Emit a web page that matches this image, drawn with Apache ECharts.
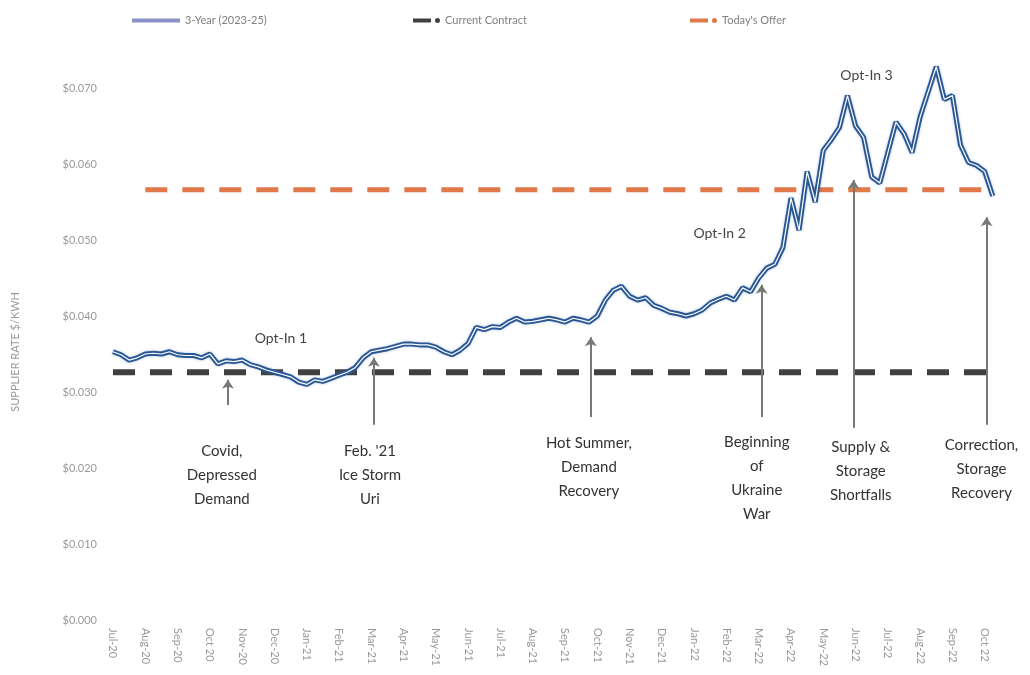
<!DOCTYPE html>
<html>
<head>
<meta charset="utf-8">
<script src="https://cdn.jsdelivr.net/npm/echarts@6/dist/echarts.min.js"></script>
<style>
  html, body { margin: 0; padding: 0; background: #fff; }
  #main { width: 1030px; height: 675px; }
</style>
</head>
<body>
<div id="main"></div>
<script>
// month tick labels (x axis is month index from Jul-20)
var monthLabels = ['Jul-20','Aug-20','Sep-20','Oct 20','Nov-20','Dec-20','Jan-21','Feb-21','Mar-21','Apr-21',
  'May-21','Jun-21','Jul-21','Aug-21','Sep-21','Oct-21','Nov-21','Dec-21','Jan-22','Feb-22','Mar-22',
  'Apr-22','May-22','Jun-22','Jul-22','Aug-22','Sep-22','Oct 22'];

// supplier rate, one reading every quarter month starting Jul-20
var step = 0.25;
var rateValues = [
  0.0353,0.0349,0.0342,0.0345,0.0350,0.0351,0.0350,0.0353,0.0349,0.0348,
  0.0348,0.0345,0.0350,0.0337,0.0341,0.0340,0.0342,0.0336,0.0333,0.0329,
  0.0326,0.0323,0.0320,0.0313,0.0310,0.0316,0.0314,0.0318,0.0322,0.0326,
  0.0332,0.0345,0.0353,0.0355,0.0357,0.0360,0.0363,0.0363,0.0362,0.0362,
  0.0359,0.0353,0.0349,0.0355,0.0364,0.0385,0.0382,0.0386,0.0385,0.0392,
  0.0397,0.0392,0.0393,0.0395,0.0397,0.0395,0.0392,0.0397,0.0395,0.0392,
  0.0400,0.0421,0.0434,0.0439,0.0426,0.0421,0.0424,0.0414,0.0410,0.0405,
  0.0403,0.0400,0.0403,0.0408,0.0417,0.0422,0.0426,0.0421,0.0437,0.0432,
  0.0450,0.0463,0.0468,0.0490,0.0555,0.0513,0.0590,0.0550,0.0618,0.0632,
  0.0648,0.0690,0.0650,0.0635,0.0583,0.0575,0.0615,0.0655,0.0640,0.0615,
  0.0662,0.0695,0.0728,0.0685,0.0690,0.0625,0.0602,0.0598,0.0590,0.0558
];

var currentContract = 0.0326;
var todaysOffer = 0.0566;

var yTicks = [0, 0.01, 0.02, 0.03, 0.04, 0.05, 0.06, 0.07];

var rateData = rateValues.map(function (v, i) { return [i * step, v]; });
var lastX = (rateValues.length - 1) * step;

// event notes: text, arrow x (month), arrow bottom/top, text position
var notes = [
  { text: 'Covid,\nDepressed\nDemand', x: 3.56, y0: 0.0283, y1: 0.0316, tx: 3.37, ty: 0.0191 },
  { text: "Feb. '21\nIce Storm\nUri", x: 8.08, y0: 0.0257, y1: 0.0345, tx: 7.96, ty: 0.0190 },
  { text: 'Hot Summer,\nDemand\nRecovery', x: 14.8, y0: 0.0267, y1: 0.0372, tx: 14.74, ty: 0.0201 },
  { text: 'Beginning\nof\nUkraine\nWar', x: 20.09, y0: 0.0267, y1: 0.0441, tx: 19.94, ty: 0.0187 },
  { text: 'Supply &\nStorage\nShortfalls', x: 22.94, y0: 0.0253, y1: 0.0579, tx: 23.16, ty: 0.0196 },
  { text: 'Correction,\nStorage\nRecovery', x: 27.06, y0: 0.0257, y1: 0.0530, tx: 26.9, ty: 0.0199 }
];
var optIns = [
  { text: 'Opt-In 1', tx: 5.2, ty: 0.0371 },
  { text: 'Opt-In 2', tx: 18.79, ty: 0.0508 },
  { text: 'Opt-In 3', tx: 23.34, ty: 0.0716 }
];

var myChart = echarts.init(document.getElementById('main'));

var legendText = { color: '#808080', fontSize: 11, fontFamily: 'Lato' };
var dashDot = 'path://M0,1h18v4h-18zM22,3a2.5,2.5,0,1,0,5,0a2.5,2.5,0,1,0,-5,0z';

var option = {
  animation: false,
  backgroundColor: '#fff',
  legend: [
    { left: 127, top: 10, itemWidth: 48, itemHeight: 4, itemGap: 6, icon: 'rect', textStyle: legendText,
      data: [{ name: '3-Year (2023-25)', itemStyle: { color: '#8a90c8' } }] },
    { left: 408, top: 10, itemWidth: 27, itemHeight: 6, icon: dashDot, textStyle: legendText,
      data: [{ name: 'Current Contract', itemStyle: { color: '#404040' } }] },
    { left: 685, top: 10, itemWidth: 27, itemHeight: 6, icon: dashDot, textStyle: legendText,
      data: [{ name: "Today's Offer", itemStyle: { color: '#e0784a' } }] }
  ],
  grid: { left: 113, right: 34, top: 12, bottom: 55 },
  xAxis: {
    type: 'value',
    min: 0,
    max: 27.35,
    interval: 1,
    axisLine: { show: false },
    axisTick: { show: false },
    splitLine: { show: false },
    axisLabel: {
      rotate: -90,
      margin: 8,
      color: '#999',
      fontSize: 11,
      fontFamily: 'Lato',
      showMaxLabel: false,
      formatter: function (v) { return monthLabels[Math.round(v)] || ''; }
    }
  },
  yAxis: {
    type: 'value',
    min: 0,
    max: 0.08,
    interval: 0.01,
    axisLine: { show: false },
    axisTick: { show: false },
    splitLine: { show: false },
    axisLabel: {
      margin: 16,
      color: '#999',
      fontSize: 11,
      fontFamily: 'Lato',
      formatter: function (v) {
        return yTicks.indexOf(Math.round(v * 1000) / 1000) >= 0 ? '$' + v.toFixed(3) : '';
      }
    }
  },
  graphic: [
    { type: 'text', left: 10, top: 292, rotation: Math.PI / 2,
      style: { text: 'SUPPLIER RATE $/KWH', fill: '#999', font: '11px Lato' } }
  ],
  series: [
    {
      name: 'Current Contract',
      type: 'line',
      symbol: 'none',
      z: 1,
      data: [[0, currentContract], [lastX, currentContract]],
      lineStyle: { color: '#404040', width: 6, type: [22, 15] }
    },
    {
      name: "Today's Offer",
      type: 'line',
      symbol: 'none',
      z: 1,
      data: [[1, todaysOffer], [lastX, todaysOffer]],
      lineStyle: { color: '#e0784a', width: 5, type: [22, 15] }
    },
    {
      name: '3-Year (2023-25)',
      type: 'line',
      symbol: 'none',
      z: 3,
      data: rateData,
      lineStyle: { color: '#2a5794', width: 5, shadowColor: 'rgba(70,120,190,0.4)', shadowBlur: 3 }
    },
    {
      name: 'rate-inner',
      type: 'line',
      symbol: 'none',
      z: 4,
      data: rateData,
      lineStyle: { color: '#ffffff', width: 1.2 },
      markLine: {
        silent: true,
        symbol: ['none', 'arrow'],
        symbolSize: 9,
        lineStyle: { color: '#777', width: 2, type: 'solid' },
        label: { show: false },
        data: notes.map(function (n) {
          return [{ coord: [n.x, n.y0] }, { coord: [n.x, n.y1] }];
        })
      },
      markPoint: {
        silent: true,
        symbol: 'circle',
        symbolSize: 0,
        data: notes.map(function (n) {
          return {
            coord: [n.tx, n.ty],
            label: { show: true, position: 'inside', formatter: n.text, color: '#333',
              fontSize: 15, lineHeight: 24, fontFamily: 'Lato', align: 'center' }
          };
        }).concat(optIns.map(function (o) {
          return {
            coord: [o.tx, o.ty],
            label: { show: true, position: 'inside', formatter: o.text, color: '#444',
              fontSize: 14, fontFamily: 'Lato' }
          };
        }))
      }
    }
  ]
};

myChart.setOption(option);
</script>
</body>
</html>
